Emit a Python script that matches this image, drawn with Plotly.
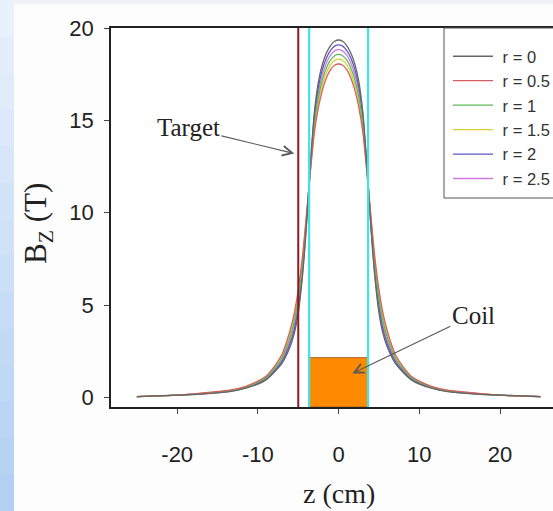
import plotly.graph_objects as go

# Axial field profiles B_z(z) of the magnet coil for several radial offsets r (cm)
z_cm = [-25, -20, -17, -13.5, -11.5, -10, -9, -8, -7, -6, -5.5, -5, -4.5, -4, -3.5, -3, -2.5, -2, -1.5, -1, -0.5,
        0, 0.5, 1, 1.5, 2, 2.5, 3, 3.5, 4, 4.5, 5, 5.5, 6, 7, 8, 9, 10, 11.5, 13.5, 17, 20, 25]

bz_r0 = [0.04, 0.12, 0.18, 0.31, 0.50, 0.72, 0.95, 1.35, 1.85, 2.75, 3.45, 4.58, 6.45, 9.20, 12.60, 15.45, 17.10, 18.05, 18.66, 19.05, 19.28,
         19.35, 19.28, 19.05, 18.66, 18.05, 17.10, 15.45, 12.60, 9.20, 6.45, 4.58, 3.45, 2.75, 1.85, 1.35, 0.95, 0.72, 0.50, 0.31, 0.18, 0.12, 0.04]
bz_r05 = [0.04, 0.12, 0.23, 0.39, 0.60, 0.88, 1.15, 1.65, 2.35, 3.65, 4.55, 5.83, 7.55, 9.80, 12.20, 14.35, 15.70, 16.65, 17.31, 17.75, 17.98,
          18.05, 17.98, 17.75, 17.31, 16.65, 15.70, 14.35, 12.20, 9.80, 7.55, 5.83, 4.55, 3.65, 2.35, 1.65, 1.15, 0.88, 0.60, 0.39, 0.23, 0.12, 0.04]
bz_r1 = [0.04, 0.12, 0.21, 0.36, 0.56, 0.82, 1.07, 1.53, 2.15, 3.29, 4.11, 5.33, 7.11, 9.56, 12.36, 14.79, 16.26, 17.21, 17.85, 18.27, 18.50,
         18.57, 18.50, 18.27, 17.85, 17.21, 16.26, 14.79, 12.36, 9.56, 7.11, 5.33, 4.11, 3.29, 2.15, 1.53, 1.07, 0.82, 0.56, 0.36, 0.21, 0.12, 0.04]
bz_r15 = [0.04, 0.12, 0.22, 0.37, 0.58, 0.85, 1.11, 1.59, 2.25, 3.47, 4.33, 5.58, 7.33, 9.68, 12.28, 14.57, 15.98, 16.93, 17.58, 18.01, 18.24,
          18.31, 18.24, 18.01, 17.58, 16.93, 15.98, 14.57, 12.28, 9.68, 7.33, 5.58, 4.33, 3.47, 2.25, 1.59, 1.11, 0.85, 0.58, 0.37, 0.22, 0.12, 0.04]
bz_r2 = [0.04, 0.12, 0.19, 0.33, 0.52, 0.76, 0.99, 1.41, 1.95, 2.93, 3.67, 4.83, 6.67, 9.32, 12.52, 15.23, 16.82, 17.77, 18.39, 18.79, 19.02,
         19.09, 19.02, 18.79, 18.39, 17.77, 16.82, 15.23, 12.52, 9.32, 6.67, 4.83, 3.67, 2.93, 1.95, 1.41, 0.99, 0.76, 0.52, 0.33, 0.19, 0.12, 0.04]
bz_r25 = [0.04, 0.12, 0.20, 0.34, 0.54, 0.79, 1.03, 1.47, 2.05, 3.11, 3.89, 5.08, 6.89, 9.44, 12.44, 15.01, 16.54, 17.49, 18.12, 18.53, 18.76,
          18.83, 18.76, 18.53, 18.12, 17.49, 16.54, 15.01, 12.44, 9.44, 6.89, 5.08, 3.89, 3.11, 2.05, 1.47, 1.03, 0.79, 0.54, 0.34, 0.20, 0.12, 0.04]

series_labels = ["r = 0", "r = 0.5", "r = 1", "r = 1.5", "r = 2", "r = 2.5"]
series_values = [bz_r0, bz_r05, bz_r1, bz_r15, bz_r2, bz_r25]
series_colors = ["#666666", "#d86060", "#5cbc5c", "#d8d030", "#5a5ac8", "#d07ade"]

# Geometry markers
target_z = -5.0
coil_z = [-3.65, 3.65]
coil_height = 2.15

x_range = [-28.2, 26.56]
y_range = [-0.52, 20.0]
x_ticks = [-20, -10, 0, 10, 20]
x_ticktext = ["-20", "-10", "0", "10", "20"]
y_ticks = [0, 5, 10, 15, 20]

sans = "Arial, Liberation Sans, sans-serif"
serif = "Times New Roman, Liberation Serif, serif"
pad = "\u00a0"

fig = go.Figure()

# Drawn last-to-first so the r = 0 profile sits on top; legend order is reversed back
for label, vals, col in reversed(list(zip(series_labels, series_values, series_colors))):
    fig.add_trace(go.Scatter(
        x=z_cm, y=vals, mode="lines", name=pad + label,
        line=dict(color=col, width=1.3, shape="spline", smoothing=0.7),
    ))

# Coil cross-section
fig.add_trace(go.Scatter(
    x=[coil_z[0], coil_z[1], coil_z[1], coil_z[0], coil_z[0]],
    y=[y_range[0], y_range[0], coil_height, coil_height, y_range[0]],
    mode="lines", fill="toself", fillcolor="#ff8a00",
    line=dict(color="#a8601c", width=1), showlegend=False, hoverinfo="skip",
))

# Coil edges (cyan) and target position (dark red)
for zc in coil_z:
    fig.add_trace(go.Scatter(x=[zc, zc], y=y_range, mode="lines",
                             line=dict(color="#3fe3ea", width=2.2),
                             showlegend=False, hoverinfo="skip"))
fig.add_trace(go.Scatter(x=[target_z, target_z], y=y_range, mode="lines",
                         line=dict(color="#8e1b22", width=2),
                         showlegend=False, hoverinfo="skip"))

# Slide background: blue gradient strip on the left edge
n_band = 14
top_rgb = (234, 242, 252)
bot_rgb = (176, 207, 243)
fig_top = 407 / 379
fig_bot = -104 / 379
for i in range(n_band):
    t = (i + 0.5) / n_band
    c = tuple(int(round(top_rgb[k] + (bot_rgb[k] - top_rgb[k]) * t)) for k in range(3))
    y1 = fig_top - (fig_top - fig_bot) * i / n_band
    y0 = fig_top - (fig_top - fig_bot) * (i + 1) / n_band
    fig.add_shape(type="rect", xref="paper", yref="paper",
                  x0=-111 / 442, x1=-97 / 442, y0=y0 - 0.002, y1=y1,
                  fillcolor="rgb(%d,%d,%d)" % c, line_width=0, layer="below")
fig.add_shape(type="rect", xref="paper", yref="paper",
              x0=-97 / 442, x1=1.05, y0=fig_top - 4 / 379, y1=fig_top,
              fillcolor="#eef2f8", line_width=0, layer="below")

# Legend frame
fig.add_shape(type="rect", xref="paper", yref="paper",
              x0=(444 - 111) / 442, x1=1.05, y0=(407 - 198) / 379, y1=1.0,
              fillcolor="white", line=dict(color="#555555", width=1), layer="above")

# Labels with arrows
fig.add_annotation(x=-5.5, y=13.2, ax=-18.6, ay=14.6, axref="x", ayref="y",
                   xref="x", yref="y", text="Target", showarrow=True,
                   arrowhead=5, arrowsize=1.6, arrowwidth=1.2, arrowcolor="#5a5a5a",
                   font=dict(family=serif, size=25, color="#222222"))
fig.add_annotation(x=1.7, y=1.3, ax=16.7, ay=4.45, axref="x", ayref="y",
                   xref="x", yref="y", text="Coil", showarrow=True,
                   arrowhead=5, arrowsize=1.6, arrowwidth=1.2, arrowcolor="#5a5a5a",
                   font=dict(family=serif, size=25, color="#222222"))

# Axis titles
fig.add_annotation(xref="x", yref="paper", x=0, y=-86 / 379, text="z (cm)",
                   showarrow=False, font=dict(family=serif, size=28, color="#222222"),
                   xanchor="center", yanchor="middle")
fig.add_annotation(xref="paper", yref="paper", x=-73 / 442, y=183 / 379,
                   text="B<sub>Z</sub> (T)", textangle=-90, showarrow=False,
                   font=dict(family=serif, size=31, color="#222222"),
                   xanchor="center", yanchor="middle")

fig.update_layout(
    width=553, height=511,
    margin=dict(l=111, r=0, t=28, b=104, autoexpand=False),
    paper_bgcolor="#fdfdfd", plot_bgcolor="white",
    showlegend=True,
    legend=dict(x=(448 - 111) / 442, y=(407 - 39) / 379, xanchor="left", yanchor="top",
                bgcolor="rgba(0,0,0,0)", borderwidth=0, itemwidth=40, traceorder="reversed",
                font=dict(family=sans, size=16.5, color="#333333")),
    xaxis=dict(range=x_range, tickvals=x_ticks, ticktext=x_ticktext, showgrid=False, zeroline=False,
               showline=True, linecolor="#222222", linewidth=1.5, mirror=True,
               ticks="outside", ticklen=5, tickcolor="#444444", ticklabelstandoff=22,
               tickfont=dict(family=sans, size=22, color="#222222")),
    yaxis=dict(range=y_range, tickvals=y_ticks, showgrid=False, zeroline=False,
               showline=True, linecolor="#222222", linewidth=1.5, mirror=False,
               ticks="outside", ticklen=5, tickcolor="#444444", ticklabelstandoff=6,
               tickfont=dict(family=sans, size=22, color="#222222")),
)

fig.write_html("out.html")
